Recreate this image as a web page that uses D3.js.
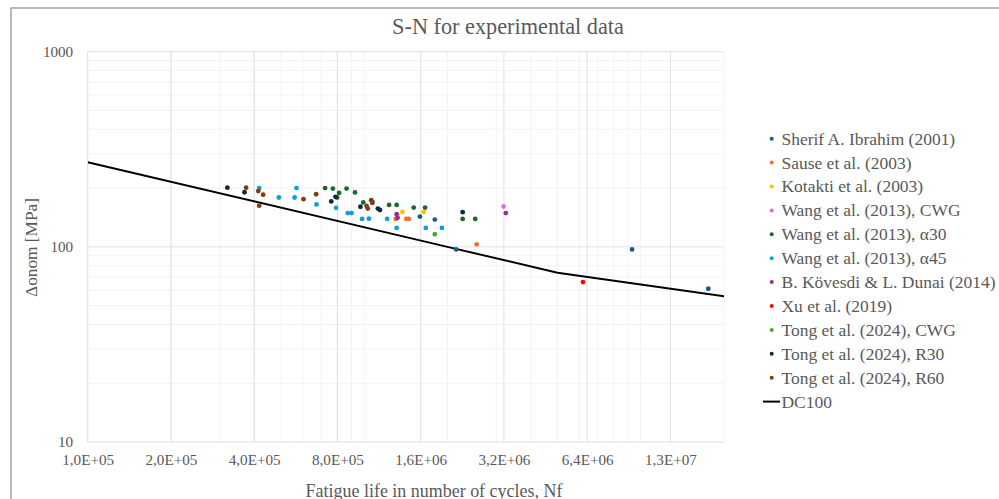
<!DOCTYPE html>
<html>
<head>
<meta charset="utf-8">
<script src="https://cdn.jsdelivr.net/npm/d3@7"></script>
<style>
  body { margin: 0; background: #fff; }
  svg text { font-family: "Liberation Serif", serif !important; }
</style>
</head>
<body>
<svg id="chart" width="999" height="499"></svg>
<script>
// data: [cycles, stress range MPa]
const sherif = [[1.59e6, 143], [1.80e6, 138], [2.15e6, 97], [9.3e6, 97], [1.755e7, 61]];
const sause = [[1.30e6, 139], [1.42e6, 139], [1.45e6, 139], [2.55e6, 103]];
const kotakti = [[1.375e6, 151], [1.64e6, 151]];
const wangCWG = [[3.19e6, 161]];
const wangA30 = [[7.22e5, 200], [7.70e5, 199], [8.63e5, 199], [9.26e5, 190], [8.11e5, 189], [7.98e5, 179],
  [9.92e5, 169], [1.07e6, 170], [1.23e6, 164], [1.31e6, 164], [1.51e6, 159], [1.66e6, 159], [2.27e6, 139], [2.52e6, 139]];
const wangA45 = [[4.17e5, 200], [5.69e5, 200], [4.91e5, 179], [5.60e5, 179], [6.72e5, 165], [7.91e5, 158.5],
  [8.72e5, 149], [9.0e5, 149], [9.82e5, 139], [1.04e6, 139.5], [1.21e6, 139], [1.31e6, 125], [1.67e6, 125], [1.91e6, 125]];
const kovesdi = [[1.31e6, 147], [1.32e6, 141], [3.25e6, 149]];
const xu = [[6.18e6, 66]];
const tongCWG = [[1.80e6, 116]];
const tongR30 = [[3.2e5, 201], [3.69e5, 190.5], [7.60e5, 171], [7.87e5, 180.5], [9.69e5, 160.5], [1.14e6, 154.5],
  [1.12e6, 157], [2.27e6, 150.5]];
const tongR60 = [[3.74e5, 201], [4.14e5, 193], [4.31e5, 185], [4.17e5, 162.5], [6.03e5, 175.5], [6.70e5, 186],
  [1.02e6, 162], [1.03e6, 157], [1.06e6, 173.5], [1.07e6, 168]];
const dc100 = [[1e5, 271.4], [2e6, 100], [5e6, 73.7], [1e8, 40.5]];

const seriesNames = ["Sherif A. Ibrahim (2001)", "Sause et al. (2003)", "Kotakti et al. (2003)",
  "Wang et al. (2013), CWG", "Wang et al. (2013), α30", "Wang et al. (2013), α45",
  "B. Kövesdi & L. Dunai (2014)", "Xu et al. (2019)", "Tong et al. (2024), CWG",
  "Tong et al. (2024), R30", "Tong et al. (2024), R60"];
const seriesData = [sherif, sause, kotakti, wangCWG, wangA30, wangA45, kovesdi, xu, tongCWG, tongR30, tongR60];
const seriesColors = ["#156082", "#E97132", "#FFC000", "#E46FCF", "#196B24", "#0F9ED5",
  "#A02B93", "#FF0000", "#4EA72E", "#0E2841", "#843C0C"];

const xTicks = [1e5, 2e5, 4e5, 8e5, 1.6e6, 3.2e6, 6.4e6, 1.28e7];
const xTickLabels = ["1,0E+05", "2,0E+05", "4,0E+05", "8,0E+05", "1,6E+06", "3,2E+06", "6,4E+06", "1,3E+07"];
const yTicks = [10, 100, 1000];
const yTickLabels = ["10", "100", "1000"];

const textColor = "#595959";
const svg = d3.select("#chart");

// font size that makes a sample string the width seen in the reference
function fitSize(sample, width, base) {
  const t = svg.append("text").style("font-size", base + "px").text(sample);
  const w = t.node().getComputedTextLength();
  t.remove();
  return base * width / w;
}
const tickSize = fitSize("1,0E+05", 52, 12);
const legendSize = Math.min(fitSize("Sherif A. Ibrahim (2001)", 181, 15),
  fitSize("B. Kövesdi & L. Dunai (2014)", 214, 15));
const titleSize = fitSize("S-N for experimental data", 232, 18);
const xTitleSize = fitSize("Fatigue life in number of cycles, Nf", 257, 15);
const yTitleSize = fitSize("Δonom [MPa]", 99, 15);

// chart frame (runs off the right and bottom of the picture)
svg.append("rect")
  .attr("x", 11).attr("y", 8).attr("width", 1000).attr("height", 520)
  .attr("fill", "#fff").attr("stroke", "#8c8c8c").attr("stroke-width", 1.2);

const x = d3.scaleLog().base(2).domain([1e5, 2e7]).range([87.7, 724]);
const y = d3.scaleLog().domain([10, 1000]).range([442, 51.7]);

// minor grid
let xMinor = [];
for (let k = 5; k <= 7; k++) for (let m = 1; m <= 9; m++) {
  const v = m * Math.pow(10, k);
  if (v >= 1e5 && v <= 2e7) xMinor.push(v);
}
let yMinor = [];
for (let k = 1; k <= 2; k++) for (let m = 2; m <= 9; m++) yMinor.push(m * Math.pow(10, k));

const grid = svg.append("g");
grid.selectAll("line.xm").data(xMinor).enter().append("line")
  .attr("x1", d => x(d)).attr("x2", d => x(d)).attr("y1", y(1000)).attr("y2", y(10))
  .attr("stroke", "#f2f2f2");
grid.selectAll("line.ym").data(yMinor).enter().append("line")
  .attr("x1", x(1e5)).attr("x2", x(2e7)).attr("y1", d => y(d)).attr("y2", d => y(d))
  .attr("stroke", "#f2f2f2");
grid.selectAll("line.xM").data(xTicks).enter().append("line")
  .attr("x1", d => x(d)).attr("x2", d => x(d)).attr("y1", y(1000)).attr("y2", y(10))
  .attr("stroke", "#e0e0e0");
grid.selectAll("line.yM").data(yTicks).enter().append("line")
  .attr("x1", x(1e5)).attr("x2", x(2e7)).attr("y1", d => y(d)).attr("y2", d => y(d))
  .attr("stroke", "#e0e0e0");

// axes (labels only)
const xAxis = svg.append("g").attr("transform", `translate(0,${y(10)})`)
  .call(d3.axisBottom(x).tickValues(xTicks).tickSize(0).tickPadding(12)
    .tickFormat((d, i) => xTickLabels[i]));
const yAxis = svg.append("g").attr("transform", `translate(${x(1e5)},0)`)
  .call(d3.axisLeft(y).tickValues(yTicks).tickSize(0).tickPadding(14.5)
    .tickFormat((d, i) => yTickLabels[i]));
[xAxis, yAxis].forEach(a => {
  a.select(".domain").remove();
  a.selectAll("text").attr("fill", textColor).style("font-size", tickSize + "px");
});

// DC100 line
svg.append("clipPath").attr("id", "clip").append("rect")
  .attr("x", x(1e5)).attr("y", y(1000)).attr("width", x(2e7) - x(1e5)).attr("height", y(10) - y(1000));
svg.append("path").datum(dc100)
  .attr("clip-path", "url(#clip)")
  .attr("d", d3.line().x(d => x(d[0])).y(d => y(d[1])))
  .attr("fill", "none").attr("stroke", "#000").attr("stroke-width", 2);

// points
seriesData.forEach((pts, i) => {
  svg.append("g").selectAll("circle").data(pts).enter().append("circle")
    .attr("cx", d => x(d[0])).attr("cy", d => y(d[1])).attr("r", 2.4)
    .attr("fill", seriesColors[i]);
});

// titles
svg.append("text").attr("x", 508).attr("y", 33.5).attr("text-anchor", "middle")
  .attr("fill", textColor).style("font-size", titleSize + "px").text("S-N for experimental data");
svg.append("text").attr("x", 434).attr("y", 496.5).attr("text-anchor", "middle")
  .attr("fill", textColor).style("font-size", xTitleSize + "px").text("Fatigue life in number of cycles, Nf");
svg.append("text").attr("transform", "translate(36.5,247.5) rotate(-90)").attr("text-anchor", "middle")
  .attr("fill", textColor).style("font-size", yTitleSize + "px").text("Δonom [MPa]");

// legend
const legend = svg.append("g");
const rowY = i => 138.7 + i * 23.9;
const lift = legendSize * 0.34;
seriesNames.forEach((name, i) => {
  legend.append("circle").attr("cx", 771.7).attr("cy", rowY(i)).attr("r", 2).attr("fill", seriesColors[i]);
  legend.append("text").attr("x", 781.5).attr("y", rowY(i) + lift)
    .attr("fill", textColor).style("font-size", legendSize + "px").text(name);
});
legend.append("line").attr("x1", 763).attr("x2", 780).attr("y1", rowY(11)).attr("y2", rowY(11))
  .attr("stroke", "#000").attr("stroke-width", 2);
legend.append("text").attr("x", 781.5).attr("y", rowY(11) + lift)
  .attr("fill", textColor).style("font-size", legendSize + "px").text("DC100");
</script>
</body>
</html>
